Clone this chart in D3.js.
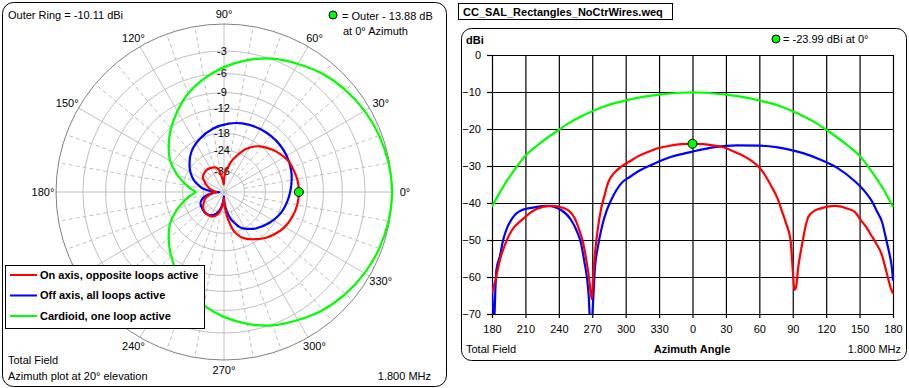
<!DOCTYPE html>
<html lang="en">
<head>
<meta charset="UTF-8">
<script src="https://cdn.jsdelivr.net/npm/d3@7"></script>
<style>
    body{margin:0;background:#fff;}
    svg text{font-family:"Liberation Sans",Arial,sans-serif;font-size:11px;fill:#000;}
    svg .bold{font-weight:bold;}
</style>
<title>Azimuth patterns</title>
</head>
<body>
<script>
// patterns in dBi, [azimuth, gain]
var redPattern = [[-180,-64.2],[-177,-61],[-173,-55.5],[-168,-51],[-162,-47.3],[-153,-44.5],[-140,-41.6],[-127,-40.8],[-115,-41.4],[-106,-44],[-102,-47],[-98,-51],[-95,-56],[-93,-60],[-91.5,-64],[-90.5,-66],[-89.5,-62],[-88.5,-57],[-87,-52],[-85,-47],[-82,-41.5],[-79,-38],[-76,-34.7],[-70,-31.8],[-64,-30.2],[-55,-28.5],[-49,-27.4],[-40,-26.2],[-31,-25.2],[-20,-24.5],[-10,-24.1],[0,-23.99],[10,-24.1],[20,-24.5],[26,-24.8],[35,-25.8],[41,-26.6],[50,-28],[56,-29.3],[63,-31.5],[71,-35.6],[76,-38.5],[80,-41.9],[84,-45.5],[88,-50],[90,-58],[91.5,-63.5],[93,-62.7],[95,-57.2],[98,-51.8],[101,-47],[104,-43.7],[110,-42],[116,-41.4],[128,-40.8],[140,-41.6],[146,-42.5],[151,-44.6],[156,-46.5],[160,-48.5],[165,-51],[170,-54],[174,-58.5],[178,-63],[180,-64.5]];
var bluePattern = [[-180,-61.3],[-179,-70],[-178,-72],[-177,-63.5],[-176,-58],[-173,-54.5],[-170,-50],[-166,-46.4],[-162,-44.2],[-154,-42],[-142,-41.2],[-130,-40.8],[-118,-41.9],[-109,-44.6],[-104,-47.5],[-100,-51],[-97,-56],[-94.5,-60.8],[-93,-66],[-92,-72],[-90.5,-72],[-89,-65.3],[-87.7,-58],[-85,-52],[-81,-46],[-77,-42],[-73,-39.2],[-64,-34.7],[-56,-32.9],[-49,-31.5],[-34,-29.3],[-19,-27.5],[0,-26.1],[20,-24.9],[40,-24.4],[60,-24.5],[75,-24.9],[86,-25.5],[100,-26.6],[115,-28.3],[130,-30.5],[146,-34.2],[155,-37],[161,-39.5],[166,-42.5],[170,-45],[174,-50],[177,-54],[179,-57.5],[180,-61]];
var greenPattern = [[-180,-41],[-175,-38.2],[-170,-35.6],[-160,-31.1],[-150,-27.2],[-140,-24.6],[-130,-22.3],[-120,-20.2],[-110,-18.2],[-100,-16.6],[-90,-15.2],[-80,-14],[-70,-13],[-60,-12.3],[-50,-11.6],[-40,-11.1],[-30,-10.7],[-20,-10.4],[-10,-10.2],[0,-10.11],[10,-10.2],[20,-10.4],[30,-10.7],[40,-11.1],[50,-11.6],[60,-12.3],[70,-13],[80,-14],[90,-15.2],[100,-16.6],[110,-18.2],[120,-20.2],[130,-22.3],[140,-24.6],[150,-27.2],[160,-31.1],[170,-35.6],[175,-38.2],[180,-41]];

var outerRing = -10.11;
var markerAz = 0, markerDbi = -23.99;
var ringDb = [-3,-6,-9,-12,-18,-24,-36];
var ringLabels = ["-3","-6","-9","-12","-18","-24","-36"];
var angleTicks = [0,30,60,90,120,150,180,210,240,270,300,330];
// 210 sits under the legend box, so it is not labelled
var angleLabels = [0,30,60,90,120,150,180,240,270,300,330];
var fineAngles = [10,20,40,50,70,80,100,110,130,140,160,170,190,200,220,230,250,260,280,290,310,320,340,350];
var xTicks = [-180,-150,-120,-90,-60,-30,0,30,60,90,120,150,180];
var xTickLabels = ["180","210","240","270","300","330","0","30","60","90","120","150","180"];
var yTicks = [0,-10,-20,-30,-40,-50,-60,-70];

var series = [
    {name:"On axis, opposite loops active", color:"#ff0000", data:redPattern},
    {name:"Off axis, all loops active", color:"#0000ff", data:bluePattern},
    {name:"Cardioid, one loop active", color:"#00ff00", data:greenPattern}
];
var drawOrder = [series[2], series[1], series[0]];

var svg = d3.select("body").append("svg")
    .attr("width",909)
    .attr("height",388);

// ---------- polar panel ----------
svg.append("rect")
    .attr("x",2.5).attr("y",2.5).attr("width",444).attr("height",384)
    .attr("rx",11).attr("fill","#fff").attr("stroke","#000");

var cx = 224, cy = 192, R = 168;
// ARRL log scale: radius shrinks by 0.89 for every 2 dB
var expo = d3.scaleLinear().domain([0,-2]).range([0,Math.log(0.89)]);
function radius(rel){ return R*Math.exp(expo(rel)); }
function rad(a){ return a*Math.PI/180; }

var grid = svg.append("g");
fineAngles.forEach(function(a){
    grid.append("line")
        .attr("x1",cx+radius(-36)*Math.cos(rad(a))).attr("y1",cy-radius(-36)*Math.sin(rad(a)))
        .attr("x2",cx+R*Math.cos(rad(a))).attr("y2",cy-R*Math.sin(rad(a)))
        .attr("stroke","#c0c0c0").attr("stroke-dasharray","4,3");
});
angleTicks.forEach(function(a){
    grid.append("line")
        .attr("x1",cx).attr("y1",cy)
        .attr("x2",cx+R*Math.cos(rad(a))).attr("y2",cy-R*Math.sin(rad(a)))
        .attr("stroke","#c0c0c0");
});
ringDb.forEach(function(d){
    grid.append("circle")
        .attr("cx",cx).attr("cy",cy).attr("r",radius(d))
        .attr("fill","none").attr("stroke","#c0c0c0");
});
grid.append("circle")
    .attr("cx",cx).attr("cy",cy).attr("r",R)
    .attr("fill","none").attr("stroke","#808080");

ringDb.forEach(function(d,i){
    svg.append("text")
        .attr("x",cx-2).attr("y",cy-radius(d))
        .attr("dy","0.35em")
        .attr("text-anchor","middle")
        .attr("font-size","10px")
        .text(ringLabels[i]);
});
angleLabels.forEach(function(a){
    svg.append("text")
        .attr("x",cx+181*Math.cos(rad(a)))
        .attr("y",cy-178*Math.sin(rad(a)))
        .attr("dy","0.35em")
        .attr("text-anchor","middle")
        .text(a+"°");
});

var polarLine = d3.line()
    .x(function(d){ return cx+radius(d[1]-outerRing)*Math.cos(rad(d[0])); })
    .y(function(d){ return cy-radius(d[1]-outerRing)*Math.sin(rad(d[0])); })
    .curve(d3.curveCatmullRom.alpha(0.5));

drawOrder.forEach(function(s){
    svg.append("path")
        .attr("d",polarLine(s.data))
        .attr("fill","none")
        .attr("stroke",s.color)
        .attr("stroke-width",2.2);
});
svg.append("circle")
    .attr("cx",cx+radius(markerDbi-outerRing)*Math.cos(rad(markerAz)))
    .attr("cy",cy-radius(markerDbi-outerRing)*Math.sin(rad(markerAz)))
    .attr("r",4.5).attr("fill","#00ff00").attr("stroke","#000");

svg.append("text").attr("x",8).attr("y",19).text("Outer Ring = "+outerRing+" dBi");
svg.append("circle").attr("cx",333).attr("cy",15).attr("r",4).attr("fill","#00ff00").attr("stroke","#000");
svg.append("text").attr("x",342).attr("y",20).text("= Outer - "+(outerRing-markerDbi).toFixed(2)+" dB");
svg.append("text").attr("x",343).attr("y",35).text("at 0° Azimuth");
svg.append("text").attr("x",8).attr("y",364).text("Total Field");
svg.append("text").attr("x",8).attr("y",380).text("Azimuth plot at 20° elevation");
svg.append("text").attr("x",431).attr("y",380).attr("text-anchor","end").text("1.800 MHz");

// legend
var legend = svg.append("g");
legend.append("rect")
    .attr("x",5.5).attr("y",265.5).attr("width",199).attr("height",63)
    .attr("fill","#fff").attr("stroke","#000");
series.forEach(function(s,i){
    var ly = 275+i*20.5;
    legend.append("line")
        .attr("x1",10).attr("x2",37).attr("y1",ly).attr("y2",ly)
        .attr("stroke",s.color).attr("stroke-width",2);
    legend.append("text")
        .attr("class","bold")
        .attr("x",40).attr("y",ly).attr("dy","0.35em")
        .text(s.name);
});

// ---------- rectangular panel ----------
svg.append("rect")
    .attr("x",458.5).attr("y",3.5).attr("width",214).attr("height",16)
    .attr("fill","#fff").attr("stroke","#000");
svg.append("text").attr("class","bold").attr("x",463).attr("y",15.5).text("CC_SAL_Rectangles_NoCtrWires.weq");

svg.append("rect")
    .attr("x",461.5).attr("y",28.5).attr("width",445).attr("height",332)
    .attr("rx",10).attr("fill","#fff").attr("stroke","#000");

var plotLeft = 492, plotRight = 893, plotTop = 55, plotBottom = 314;
var x = d3.scaleLinear().domain([-180,180]).range([plotLeft,plotRight]);
var y = d3.scaleLinear().domain([0,-70]).range([plotTop,plotBottom]);

var xGrid = svg.append("g")
    .attr("transform","translate(0,"+plotBottom+")")
    .call(d3.axisBottom(x).tickValues(xTicks).tickSize(-(plotBottom-plotTop)).tickFormat(""));
var yGrid = svg.append("g")
    .attr("transform","translate("+plotLeft+",0)")
    .call(d3.axisLeft(y).tickValues(yTicks).tickSize(-(plotRight-plotLeft)).tickFormat(""));
[xGrid,yGrid].forEach(function(g){
    g.select(".domain").remove();
    g.selectAll("line").attr("stroke","#000").attr("stroke-width",1.2);
});

var xAxis = svg.append("g")
    .attr("transform","translate(0,"+plotBottom+")")
    .call(d3.axisBottom(x).tickValues(xTicks).tickSize(4).tickPadding(7)
        .tickFormat(function(d,i){ return xTickLabels[i]; }));
var yAxis = svg.append("g")
    .attr("transform","translate("+plotLeft+",0)")
    .call(d3.axisLeft(y).tickValues(yTicks).tickSize(5).tickPadding(6));
[xAxis,yAxis].forEach(function(g){
    g.select(".domain").remove();
    g.selectAll("line").attr("stroke","#000").attr("stroke-width",1.2);
    g.selectAll("text").attr("font-size","11px").attr("font-family",null);
});

svg.append("clipPath").attr("id","plotClip")
    .append("rect").attr("x",plotLeft).attr("y",plotTop-3).attr("width",plotRight-plotLeft+3).attr("height",plotBottom-plotTop+3);

var rectLine = d3.line()
    .x(function(d){ return x(d[0]); })
    .y(function(d){ return y(d[1]); })
    .curve(d3.curveMonotoneX);

drawOrder.forEach(function(s){
    svg.append("path")
        .attr("clip-path","url(#plotClip)")
        .attr("d",rectLine(s.data))
        .attr("fill","none")
        .attr("stroke",s.color)
        .attr("stroke-width",2.2);
});
svg.append("circle")
    .attr("cx",x(markerAz)).attr("cy",y(markerDbi))
    .attr("r",4.5).attr("fill","#00ff00").attr("stroke","#000");

svg.append("text").attr("class","bold").attr("x",466).attr("y",44).text("dBi");
svg.append("circle").attr("cx",776).attr("cy",39).attr("r",4).attr("fill","#00ff00").attr("stroke","#000");
svg.append("text").attr("x",783).attr("y",43).text("= "+markerDbi+" dBi at 0°");
svg.append("text").attr("x",466).attr("y",353).text("Total Field");
svg.append("text").attr("class","bold").attr("x",692).attr("y",353).attr("text-anchor","middle").text("Azimuth Angle");
svg.append("text").attr("x",901).attr("y",353).attr("text-anchor","end").text("1.800 MHz");
</script>
</body>
</html>
